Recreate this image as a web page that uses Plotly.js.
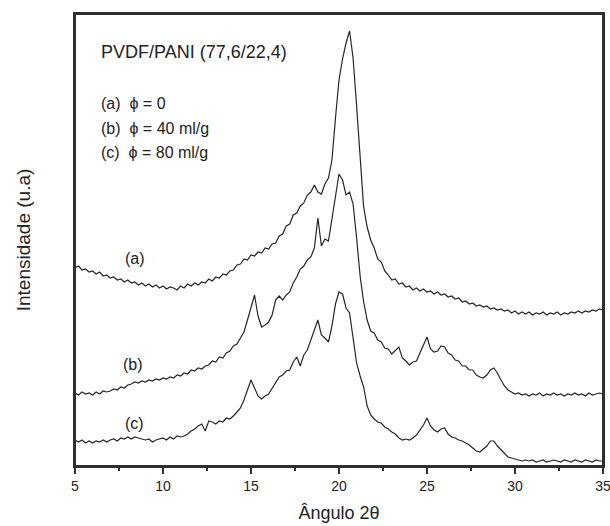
<!DOCTYPE html>
<html>
<head>
<meta charset="utf-8">
<script src="https://cdn.plot.ly/plotly-3.0.1.min.js"></script>
<style>html,body{margin:0;padding:0;background:#fff;}#chart{width:610px;height:526px;}</style>
</head>
<body>
<div id="chart"></div>
<script>
// Diffraction angle 2θ (degrees)
const angle = [
5.0,5.2,5.4,5.6,5.8,6.0,6.2,6.4,6.6,6.8,
7.0,7.2,7.4,7.6,7.8,8.0,8.2,8.4,8.6,8.8,
9.0,9.2,9.4,9.6,9.8,10.0,10.2,10.4,10.6,10.8,
11.0,11.2,11.4,11.6,11.8,12.0,12.2,12.4,12.6,12.8,
13.0,13.2,13.4,13.6,13.8,14.0,14.2,14.4,14.6,14.8,
15.0,15.2,15.4,15.6,15.8,16.0,16.2,16.4,16.6,16.8,
17.0,17.2,17.4,17.6,17.8,18.0,18.2,18.4,18.6,18.8,
19.0,19.2,19.4,19.6,19.8,20.0,20.2,20.4,20.6,20.8,
21.0,21.2,21.4,21.6,21.8,22.0,22.2,22.4,22.6,22.8,
23.0,23.2,23.4,23.6,23.8,24.0,24.2,24.4,24.6,24.8,
25.0,25.2,25.4,25.6,25.8,26.0,26.2,26.4,26.6,26.8,
27.0,27.2,27.4,27.6,27.8,28.0,28.2,28.4,28.6,28.8,
29.0,29.2,29.4,29.6,29.8,30.0,30.2,30.4,30.6,30.8,
31.0,31.2,31.4,31.6,31.8,32.0,32.2,32.4,32.6,32.8,
33.0,33.2,33.4,33.6,33.8,34.0,34.2,34.4,34.6,34.8,
35.0];

// (a) phi = 0  (offset curve, arbitrary units)
const curveA = [
198,200,196,197,194,195,192,194,190,191,
188,189,186,187,184,186,183,184,181,183,
180,182,179,181,178,180,177,179,178,176,
180,178,182,180,183,181,184,183,187,185,
189,188,192,191,195,196,201,202,207,206,
211,210,214,213,218,217,222,223,230,232,
240,242,251,253,260,263,271,274,281,274,
272,282,288,306,348,386,407,423,435,408,
360,304,259,239,226,218,207,204,195,191,
186,187,182,183,179,180,176,178,175,177,
174,175,172,174,171,172,169,170,167,168,
164,165,162,163,160,161,159,160,157,158,
156,157,155,156,153,155,152,154,152,154,
151,153,152,154,151,153,152,154,151,153,
152,154,153,155,153,155,154,156,155,157,
156];

// (b) phi = 40 ml/g
const curveB = [
73,71,74,72,73,71,74,72,75,74,
75,77,76,79,78,81,82,84,83,85,
84,86,85,87,86,88,87,89,88,91,
90,93,92,96,95,98,97,100,101,105,
104,109,108,113,115,120,122,128,134,146,
158,171,150,139,141,144,151,166,170,166,
171,174,183,189,197,200,206,209,218,248,
220,227,225,249,268,292,286,271,274,262,
228,190,164,146,135,133,126,124,118,117,
112,116,119,108,105,101,104,105,113,121,
129,117,114,115,120,119,113,111,106,105,
100,100,96,96,91,89,88,91,96,98,
93,86,80,76,74,72,73,71,72,70,
72,71,73,70,72,71,73,71,72,70,
72,71,73,71,72,70,73,71,72,73,
72];

// (c) phi = 80 ml/g
const curveC = [
26,24,26,23,25,23,25,24,26,24,
26,27,25,28,27,29,27,29,28,27,
26,27,24,26,27,28,26,29,27,30,
29,30,32,35,37,40,42,35,45,44,
42,45,44,48,47,50,54,58,66,75,
86,78,70,67,70,72,78,84,89,91,
95,96,104,109,100,111,116,126,135,146,
131,128,124,140,162,174,172,158,153,130,
103,90,79,60,51,47,44,43,39,37,
34,32,28,26,27,26,28,31,36,41,
48,40,36,34,37,38,32,29,28,26,
25,23,21,18,15,14,17,20,25,25,
20,16,12,9,8,7,6,5,6,5,
6,4,5,6,4,5,6,5,4,6,
5,4,6,5,4,6,5,4,6,5,
5];

const xTickVals = [5, 10, 15, 20, 25, 30, 35];
const xTickText = ["5", "10", "15", "20", "25", "30", "35"];
const xMinorVals = [7.5, 12.5, 17.5, 22.5, 27.5, 32.5];
const curveLabels = ["(a)", "(b)", "(c)"];
const legendLines = ["PVDF/PANI (77,6/22,4)", "(a)\u00a0\u00a0\u03d5 = 0", "(b)\u00a0\u00a0\u03d5 = 40 ml/g", "(c)\u00a0\u00a0\u03d5 = 80 ml/g"];

const lineStyle = {color: '#262626', width: 1.2};
const traces = [curveA, curveB, curveC].map(y => ({
  x: angle, y: y, type: 'scatter', mode: 'lines', line: lineStyle,
  hoverinfo: 'skip', showlegend: false
}));
// empty traces that only anchor the helper axes (minor ticks, top and right frame)
traces.push({x: [], y: [], xaxis: 'x2', yaxis: 'y', type: 'scatter', mode: 'lines', showlegend: false, hoverinfo: 'skip'});
traces.push({x: [], y: [], xaxis: 'x3', yaxis: 'y2', type: 'scatter', mode: 'lines', showlegend: false, hoverinfo: 'skip'});

const font = {family: 'Liberation Sans, Arial, sans-serif', color: '#222'};

const annotations = [
  {x: 6.36, y: 414, text: legendLines[0], size: 18},
  {x: 6.36, y: 363, text: legendLines[1], size: 16},
  {x: 6.36, y: 338, text: legendLines[2], size: 16},
  {x: 6.36, y: 314, text: legendLines[3], size: 16},
  {x: 7.75, y: 208, text: curveLabels[0], size: 16},
  {x: 7.6, y: 102, text: curveLabels[1], size: 16},
  {x: 7.75, y: 43, text: curveLabels[2], size: 16}
].map(a => ({
  x: a.x, y: a.y, xref: 'x', yref: 'y', text: a.text, showarrow: false,
  xanchor: 'left', yanchor: 'middle',
  font: Object.assign({}, font, {size: a.size})
}));

const frameColor = '#2e2e2e';
const xRange = [5, 35];
const yRange = [0, 452];

const layout = {
  width: 610, height: 526,
  margin: {l: 75, r: 7, t: 14, b: 60},
  paper_bgcolor: '#fff', plot_bgcolor: '#fff',
  font: font,
  xaxis: {
    range: xRange, showgrid: false, zeroline: false,
    showline: true, mirror: true, linecolor: frameColor, linewidth: 2,
    ticks: 'outside', ticklen: 6, tickwidth: 1.5, tickcolor: frameColor,
    tickmode: 'array', tickvals: xTickVals, ticktext: xTickText,
    ticklabeloverflow: 'allow',
    tickfont: Object.assign({}, font, {size: 14}),
    title: {text: 'Ângulo 2θ', font: Object.assign({}, font, {size: 18}), standoff: 14}
  },
  xaxis2: {
    range: xRange, overlaying: 'x', anchor: 'y', side: 'bottom',
    showgrid: false, zeroline: false, showline: false,
    ticks: 'outside', ticklen: 4, tickwidth: 1.2, tickcolor: frameColor,
    tickmode: 'array', tickvals: xMinorVals, showticklabels: false
  },
  xaxis3: {
    range: xRange, overlaying: 'x', anchor: 'y2', side: 'top',
    showgrid: false, zeroline: false, showline: true, linecolor: frameColor, linewidth: 2,
    ticks: '', showticklabels: false
  },
  yaxis: {
    range: yRange, showgrid: false, zeroline: false,
    showline: true, mirror: true, linecolor: frameColor, linewidth: 2,
    showticklabels: false,
    title: {text: 'Intensidade (u.a)', font: Object.assign({}, font, {size: 19}), standoff: 37}
  },
  yaxis2: {
    range: yRange, overlaying: 'y', anchor: 'x3', side: 'right',
    showgrid: false, zeroline: false, showline: true, linecolor: frameColor, linewidth: 2,
    ticks: '', showticklabels: false
  },
  shapes: [{
    type: 'rect', xref: 'paper', yref: 'paper', x0: 0, x1: 1, y0: 0, y1: 1,
    line: {color: frameColor, width: 2}, fillcolor: 'rgba(0,0,0,0)', layer: 'above'
  }],
  annotations: annotations
};

Plotly.newPlot('chart', traces, layout, {displayModeBar: false, staticPlot: true});
</script>
</body>
</html>
